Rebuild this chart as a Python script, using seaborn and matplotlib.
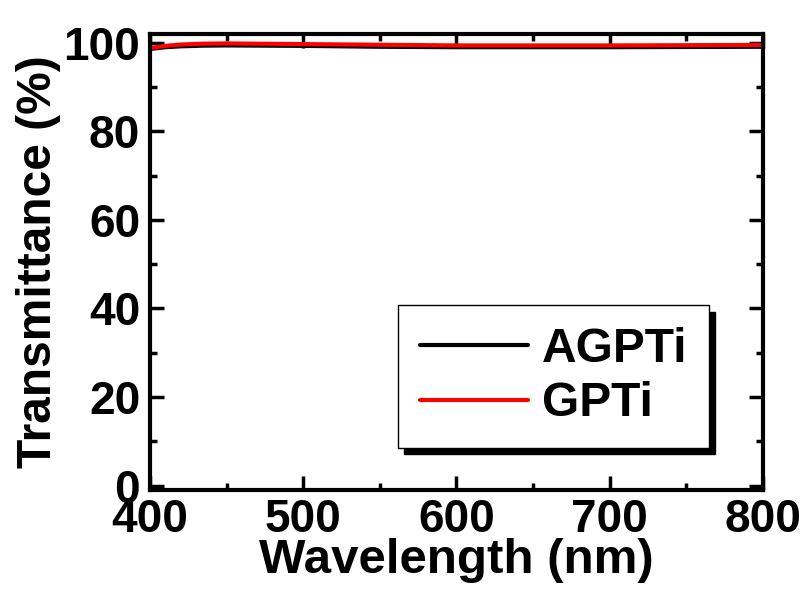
import numpy as np
import pandas as pd
import matplotlib
matplotlib.use('Agg')
import matplotlib.pyplot as plt
import seaborn as sns
from matplotlib.ticker import MultipleLocator

wavelength = [400, 410, 420, 435, 450, 500, 550, 600, 650, 700, 750, 800]
agpti = [98.6, 99.0, 99.2, 99.35, 99.4, 99.3, 99.1, 99.0, 99.0, 99.0, 99.05, 99.1]
gpti = [98.8, 99.3, 99.6, 99.8, 99.85, 99.7, 99.55, 99.4, 99.4, 99.4, 99.45, 99.5]

df = pd.DataFrame({
    'Wavelength': wavelength * 2,
    'T': agpti + gpti,
    'Sample': ['AGPTi'] * len(wavelength) + ['GPTi'] * len(wavelength),
})

sns.set_style('ticks')
plt.rcParams['font.family'] = ['Liberation Sans', 'DejaVu Sans']
plt.rcParams['font.weight'] = 'bold'
for k in ['text.color', 'axes.labelcolor', 'xtick.color', 'ytick.color', 'axes.edgecolor']:
    plt.rcParams[k] = 'black'

fig = plt.figure(figsize=(8.08, 5.95), dpi=100)
ax = fig.add_axes([0.1856, 0.1765, 0.7584, 0.7665])

sns.lineplot(data=df, x='Wavelength', y='T', hue='Sample',
             palette={'AGPTi': 'black', 'GPTi': 'red'}, linewidth=3, ax=ax)

ax.set_xlim(400, 800)
ax.set_ylim(-1, 102)
ax.xaxis.set_major_locator(MultipleLocator(100))
ax.xaxis.set_minor_locator(MultipleLocator(50))
ax.yaxis.set_major_locator(MultipleLocator(20))
ax.yaxis.set_minor_locator(MultipleLocator(10))
ax.tick_params(which='both', direction='in', top=True, right=True, width=2.5,
               labelsize=33)
ax.tick_params(which='major', length=10)
ax.tick_params(which='minor', length=5)
ax.tick_params(axis='x', pad=6)
ax.tick_params(axis='y', pad=7)
for s in ax.spines.values():
    s.set_linewidth(3)
for lab in ax.get_xticklabels() + ax.get_yticklabels():
    lab.set_fontweight('bold')

ax.set_xlabel('Wavelength (nm)', fontsize=35.5, fontweight='bold', labelpad=-3)
ax.set_ylabel('Transmittance (%)', fontsize=34.5, fontweight='bold', labelpad=2)

leg = ax.legend(loc='lower left', bbox_to_anchor=(0.405, 0.092), borderaxespad=0,
                fontsize=34.5, handlelength=2.25, frameon=True, fancybox=False,
                shadow={'color': 'black', 'alpha': 1, 'ox': 4.5, 'oy': -4.5},
                borderpad=0.45, labelspacing=0.2, handletextpad=0.3)
leg.get_frame().set_edgecolor('black')
leg.get_frame().set_linewidth(1)
leg.get_frame().set_alpha(1)
for t in leg.get_texts():
    t.set_fontweight('bold')

fig.savefig('out.png', dpi=100)
